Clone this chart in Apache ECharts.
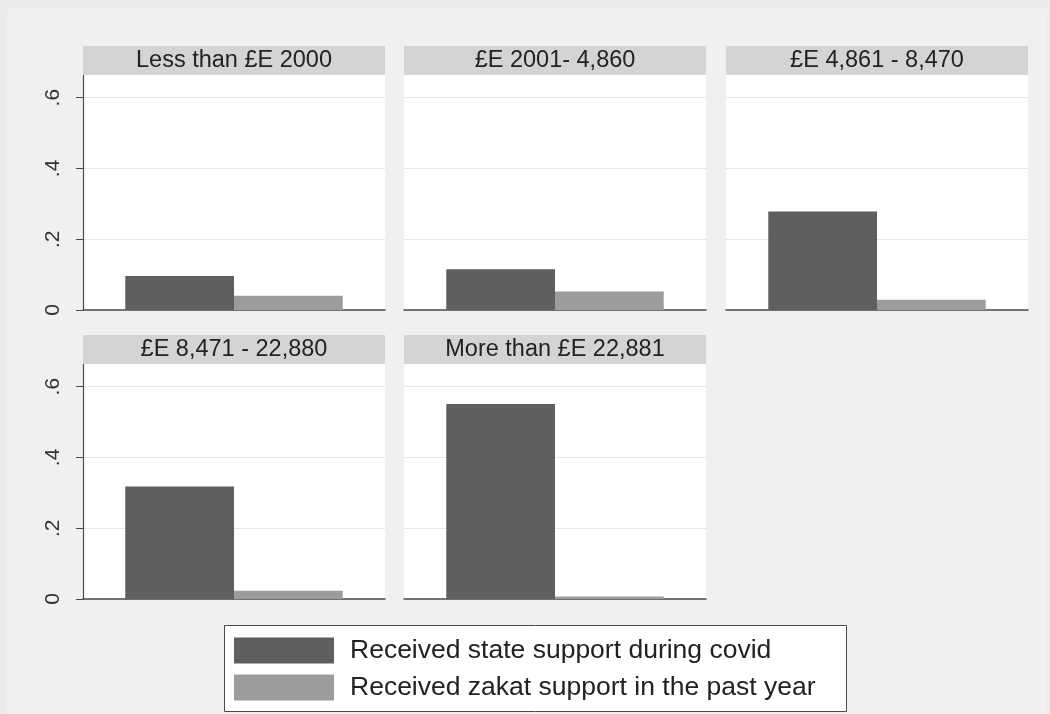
<!DOCTYPE html>
<html>
<head>
<meta charset="utf-8">
<script src="https://cdn.jsdelivr.net/npm/echarts@6/dist/echarts.min.js"></script>
<style>
  html, body { margin: 0; padding: 0; background: #ececec; }
  #chart { width: 1050px; height: 714px; }
</style>
</head>
<body>
<div id="chart"></div>
<script>
// Income groups (one panel each)
const panelTitles = [
  'Less than £E 2000',
  '£E 2001- 4,860',
  '£E 4,861 - 8,470',
  '£E 8,471 - 22,880',
  'More than £E 22,881'
];
// Series names
const seriesNames = [
  'Received state support during covid',
  'Received zakat support in the past year'
];
// Share of households receiving each kind of support, per income group
const stateSupport = [0.096, 0.115, 0.278, 0.318, 0.551];
const zakatSupport = [0.040, 0.052, 0.029, 0.023, 0.007];
// Y axis ticks and their labels
const yTicks = [0, 0.2, 0.4, 0.6];
const yTickLabels = ['0', '.2', '.4', '.6'];

const colors = ['#5f5f5f', '#9c9c9c'];
const FONT = '"Liberation Sans", Arial, sans-serif';

// Panel layout: 3 columns, 2 rows
const colLeft = [83, 404, 726];
const panelW = 302;
const rowTop = [75, 364];
const plotH = 235;
const headerH = 29;
const yMax = 0.664;

const grids = [], xAxes = [], yAxes = [], series = [];

// Graph region, a shade lighter than the outer margin
const graphics = [{
  type: 'rect', z: -10,
  shape: { x: 7, y: 9, width: 1040, height: 705 },
  style: { fill: '#f0f0f0' }
}];

panelTitles.forEach((title, i) => {
  const col = i % 3, row = Math.floor(i / 3);
  const left = colLeft[col], top = rowTop[row];
  const firstCol = col === 0;

  grids.push({
    left: left, top: top, width: panelW, height: plotH,
    show: true, backgroundColor: '#ffffff', borderWidth: 0
  });

  xAxes.push({
    gridIndex: i, type: 'category', data: [title],
    axisLine: { show: true, lineStyle: { color: '#4a4a4a', width: 1.5 } },
    axisTick: { show: false }, axisLabel: { show: false },
    splitLine: { show: false }
  });

  yAxes.push({
    gridIndex: i, type: 'value', min: 0, max: yMax, interval: 0.2,
    axisLine: { show: firstCol, lineStyle: { color: '#4a4a4a', width: 1.2 } },
    axisTick: { show: firstCol, length: 7, customValues: yTicks,
                lineStyle: { color: '#4a4a4a', width: 1 } },
    axisLabel: {
      show: firstCol, customValues: yTicks, rotate: 90, margin: 19,
      fontFamily: FONT, fontSize: 21, color: '#333333',
      formatter: v => {
        const k = yTicks.findIndex(t => Math.abs(t - v) < 1e-9);
        return k >= 0 ? yTickLabels[k] : '';
      }
    },
    splitLine: { show: true, lineStyle: { color: '#e6e6e6', width: 1 } }
  });

  series.push({
    name: seriesNames[0], type: 'bar', xAxisIndex: i, yAxisIndex: i,
    data: [stateSupport[i]], barWidth: '36%', barGap: '0%',
    itemStyle: { color: colors[0] }, silent: true
  });
  series.push({
    name: seriesNames[1], type: 'bar', xAxisIndex: i, yAxisIndex: i,
    data: [zakatSupport[i]], barWidth: '36%', barGap: '0%',
    itemStyle: { color: colors[1] }, silent: true
  });

  // Panel header strip
  graphics.push({
    type: 'rect', z: 100,
    shape: { x: left, y: top - headerH, width: panelW, height: headerH },
    style: { fill: '#d4d4d4' }
  });
  graphics.push({
    type: 'text', z: 101,
    x: left + panelW / 2, y: top - headerH / 2,
    style: {
      text: title, fontFamily: FONT, fontSize: 23.5, fill: '#222222',
      align: 'center', verticalAlign: 'middle'
    }
  });
});

// Legend frame
graphics.push({
  type: 'rect', z: 0,
  shape: { x: 224.5, y: 625.5, width: 622, height: 86 },
  style: { fill: '#ffffff', stroke: '#4a4a4a', lineWidth: 1 }
});

const chart = echarts.init(document.getElementById('chart'), null, { renderer: 'canvas' });
chart.setOption({
  animation: false,
  backgroundColor: '#ececec',
  grid: grids,
  xAxis: xAxes,
  yAxis: yAxes,
  series: series,
  graphic: graphics,
  legend: {
    data: seriesNames,
    orient: 'vertical',
    left: 234, top: 637,
    padding: 0,
    itemWidth: 100, itemHeight: 26, itemGap: 10,
    icon: 'rect',
    selectedMode: false,
    textStyle: {
      fontFamily: FONT, fontSize: 26.5, color: '#222222',
      lineHeight: 26, padding: [0, 0, 0, 11]
    }
  }
});
</script>
</body>
</html>
